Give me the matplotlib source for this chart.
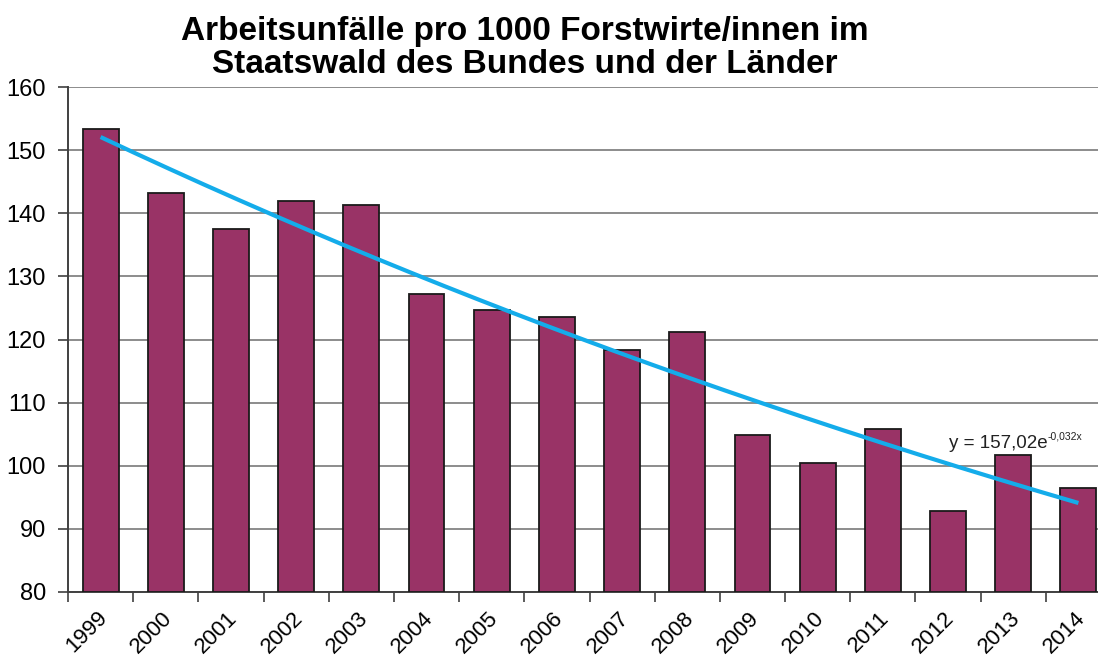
import numpy as np
import matplotlib
matplotlib.use("Agg")
import matplotlib.pyplot as plt
import matplotlib.transforms as mtransforms

years = ["1999", "2000", "2001", "2002", "2003", "2004", "2005", "2006",
         "2007", "2008", "2009", "2010", "2011", "2012", "2013", "2014"]
accidents = [153.4, 143.2, 137.5, 142.0, 141.3, 127.2, 124.7, 123.6,
             118.4, 121.2, 104.8, 100.4, 105.9, 92.9, 101.7, 96.4]
trend_a = 157.02
trend_b = -0.032
title = "Arbeitsunfälle pro 1000 Forstwirte/innen im\nStaatswald des Bundes und der Länder"
yticks = [80, 90, 100, 110, 120, 130, 140, 150, 160]

plt.rcParams['font.family'] = ['Liberation Sans', 'DejaVu Sans']

W, H = 1098, 660
fig = plt.figure(figsize=(W / 100, H / 100), dpi=100)
left, right, top, bottom = 68, 1111, 87, 592
ax = fig.add_axes([left / W, (H - bottom) / H, (right - left) / W, (bottom - top) / H])

x = np.arange(len(years))
ax.bar(x, [v - 80 for v in accidents], bottom=80, width=0.55, color='#993366',
       edgecolor='#1a1a1a', linewidth=1.3, zorder=3)

xt = np.linspace(0, len(years) - 1, 200)
yt = trend_a * np.exp(trend_b * (xt + 1))
ax.plot(xt, yt, color='#14ACEA', linewidth=3.0, zorder=4, solid_capstyle='butt')

ax.set_xlim(-0.5, len(years) - 0.5)
ax.set_ylim(80, 160)
ax.set_yticks(yticks)
ax.set_yticklabels([str(t) for t in yticks], fontsize=17)
ax.yaxis.grid(True, color='#8c8c8c', linewidth=1.4, zorder=0)
ax.set_axisbelow(True)

ax.set_xticks(x)
ax.set_xticklabels(years, fontsize=16, rotation=45, ha='right', rotation_mode='anchor')
ax.set_xticks(np.arange(-0.5, len(years), 1), minor=True)
ax.tick_params(axis='x', which='major', length=0, pad=11)
ax.tick_params(axis='x', which='minor', length=7, width=1.2, color='#404040', direction='out')
ax.tick_params(axis='y', length=7, width=1.2, color='#404040', direction='out', pad=9)
offset = mtransforms.ScaledTranslation(-4 / 100, 0, fig.dpi_scale_trans)
for lab in ax.get_xticklabels():
    lab.set_transform(lab.get_transform() + offset)

for s in ['top', 'right']:
    ax.spines[s].set_visible(False)
for s in ['left', 'bottom']:
    ax.spines[s].set_color('#404040')
    ax.spines[s].set_linewidth(1.4)

t = ax.text(13.01, 102.8, "y = 157,02e", fontsize=13.5, va='baseline', ha='left',
            color='#222222', zorder=6)
ax.annotate("-0,032x", xy=(1, 0.6), xycoords=t, fontsize=7.5, va='bottom', ha='left',
            color='#222222', zorder=6)

fig.text(525 / W, 1 - 48 / H, title, fontsize=24, fontweight='bold', ha='center',
         va='center', linespacing=1.05)

fig.savefig("out.png", dpi=100)
